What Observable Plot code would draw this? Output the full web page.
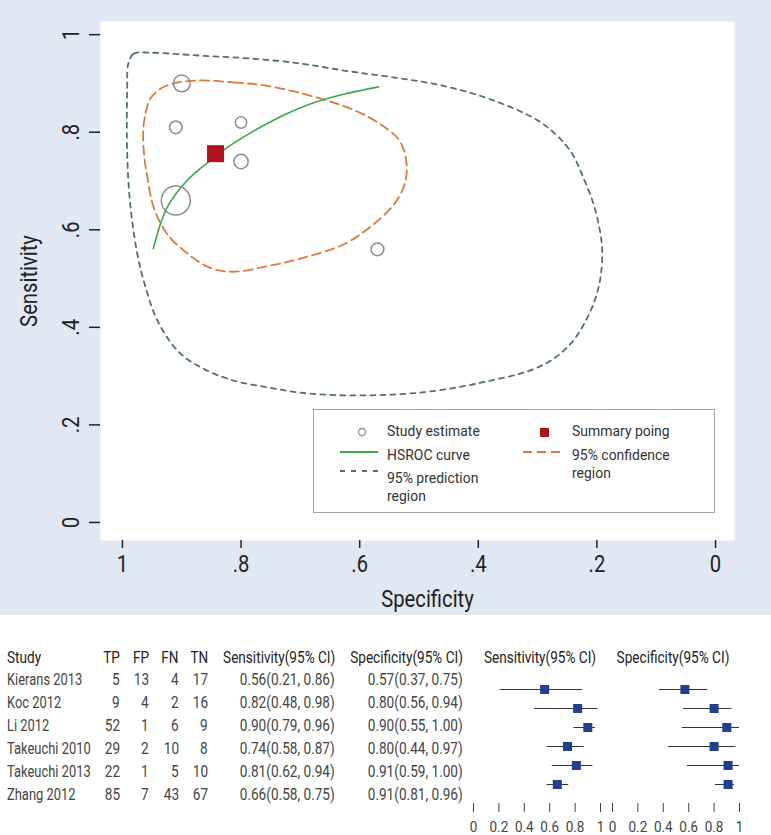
<!DOCTYPE html>
<html>
<head>
<meta charset="utf-8">
<script src="https://cdn.jsdelivr.net/npm/d3@7"></script>
<script src="https://cdn.jsdelivr.net/npm/@observablehq/plot@0.6"></script>
<style>
  body { margin: 0; background: white; }
  #page { position: relative; width: 771px; height: 835px; background: white; overflow: hidden; font-family: Roboto, sans-serif; }
  #topPanel { position: absolute; left: 0; top: 0; width: 771px; height: 615px; background: #e0e8f3; }
  .abs { position: absolute; white-space: nowrap; }
</style>
</head>
<body>
<div id="page">
  <div id="topPanel"></div>
</div>
<script>
const FONT = "Roboto, sans-serif";

// ---- Study data ----
const studies = ["Kierans 2013", "Koc 2012", "Li 2012", "Takeuchi 2010", "Takeuchi 2013", "Zhang 2012"];
const TP = [5, 9, 52, 29, 22, 85];
const FP = [13, 4, 1, 2, 1, 7];
const FN = [4, 2, 6, 10, 5, 43];
const TN = [17, 16, 9, 8, 10, 67];
const sens = [0.56, 0.82, 0.90, 0.74, 0.81, 0.66];
const sensLo = [0.21, 0.48, 0.79, 0.58, 0.62, 0.58];
const sensHi = [0.86, 0.98, 0.96, 0.87, 0.94, 0.75];
const spec = [0.57, 0.80, 0.90, 0.80, 0.91, 0.91];
const specLo = [0.37, 0.56, 0.55, 0.44, 0.59, 0.81];
const specHi = [0.75, 0.94, 1.00, 0.97, 1.00, 0.96];

// ---- Summary point ----
const summarySpec = [0.843];
const summarySens = [0.756];

// ---- HSROC curve ----
const hsrocSpec = [0.948, 0.925, 0.891, 0.852, 0.813, 0.756, 0.700, 0.666, 0.624, 0.568];
const hsrocSens = [0.561, 0.645, 0.701, 0.742, 0.777, 0.818, 0.850, 0.865, 0.879, 0.893];

// ---- 95% confidence region ----
const confSpec = [0.874, 0.812, 0.755, 0.666, 0.607, 0.567, 0.533, 0.521, 0.524, 0.541, 0.575, 0.624, 0.700, 0.757, 0.813, 0.852, 0.890, 0.925, 0.947, 0.957, 0.963, 0.965, 0.960, 0.953, 0.936, 0.914];
const confSens = [0.906, 0.902, 0.895, 0.869, 0.844, 0.818, 0.783, 0.736, 0.695, 0.654, 0.613, 0.572, 0.541, 0.525, 0.514, 0.522, 0.551, 0.592, 0.645, 0.701, 0.748, 0.803, 0.844, 0.869, 0.889, 0.900];

// ---- 95% prediction region ----
const predSpec = [0.990, 0.981, 0.953, 0.868, 0.784, 0.700, 0.624, 0.541, 0.459, 0.374, 0.292, 0.245, 0.223, 0.206, 0.196, 0.191, 0.194, 0.202, 0.216, 0.236, 0.256, 0.283, 0.324, 0.379, 0.435, 0.500, 0.570, 0.640, 0.700, 0.755, 0.813, 0.868, 0.907, 0.941, 0.961, 0.975, 0.987, 0.992, 0.992];
const predSens = [0.941, 0.961, 0.963, 0.957, 0.951, 0.941, 0.926, 0.912, 0.895, 0.865, 0.818, 0.762, 0.707, 0.654, 0.605, 0.557, 0.502, 0.461, 0.420, 0.379, 0.352, 0.328, 0.307, 0.291, 0.277, 0.266, 0.261, 0.261, 0.266, 0.277, 0.291, 0.318, 0.352, 0.414, 0.482, 0.551, 0.654, 0.756, 0.891];

// ---- Tick labels ----
const xTicks = [1, 0.8, 0.6, 0.4, 0.2, 0];
const xTickLabels = ["1", ".8", ".6", ".4", ".2", "0"];
const yTicks = [0, 0.2, 0.4, 0.6, 0.8, 1];
const yTickLabels = ["0", ".2", ".4", ".6", ".8", "1"];
const forestTicks = [0, 0.2, 0.4, 0.6, 0.8, 1];
const forestTickLabels = ["0", "0.2", "0.4", "0.6", "0.8", "1"];

// ---- Table headers ----
const tableHeaders = ["Study", "TP", "FP", "FN", "TN", "Sensitivity(95% CI)", "Specificity(95% CI)"];
const forestHeaders = ["Sensitivity(95% CI)", "Specificity(95% CI)"];

// ---- Colors ----
const cGreen = "#3aa847", cOrange = "#dd7a3b", cPred = "#52706a", cCircle = "#8c8c8c", cRed = "#b1111b", cBlue = "#213f8f";

const studyRows = studies.map((s, i) => ({
  study: s, n: TP[i] + FP[i] + FN[i] + TN[i], sens: sens[i], spec: spec[i],
  sensLo: sensLo[i], sensHi: sensHi[i], specLo: specLo[i], specHi: specHi[i]
}));
const hsroc = hsrocSpec.map((s, i) => ({spec: s, sens: hsrocSens[i]}));
const conf = confSpec.map((s, i) => ({spec: s, sens: confSens[i]}));
const pred = predSpec.map((s, i) => ({spec: s, sens: predSens[i]}));
const summary = summarySpec.map((s, i) => ({spec: s, sens: summarySens[i]}));

// condense svg text glyphs (reference uses a condensed face)
function condense(svg, f) {
  svg.querySelectorAll("text").forEach(t => {
    const L = t.getComputedTextLength();
    if (L > 0) { t.setAttribute("textLength", (L * f).toFixed(2)); t.setAttribute("lengthAdjust", "spacingAndGlyphs"); }
  });
}

// ---------- Top SROC plot ----------
const srocPlot = Plot.plot({
  width: 771, height: 615,
  marginLeft: 100, marginRight: 37, marginTop: 21, marginBottom: 75,
  style: {background: "transparent", fontFamily: FONT, color: "#222", overflow: "visible"},
  x: {domain: [1.037, -0.032]},
  y: {domain: [-0.037, 1.027]},
  r: {type: "sqrt", domain: [0, 202], range: [0, 14.5]},
  marks: [
    Plot.frame({fill: "white", stroke: null}),
    Plot.line(pred, {x: "spec", y: "sens", curve: "catmull-rom-closed", stroke: cPred, strokeWidth: 1.8, strokeDasharray: "5,5"}),
    Plot.line(conf, {x: "spec", y: "sens", curve: "catmull-rom-closed", stroke: cOrange, strokeWidth: 1.8, strokeDasharray: "9,5"}),
    Plot.line(hsroc, {x: "spec", y: "sens", curve: "catmull-rom", stroke: cGreen, strokeWidth: 1.6}),
    Plot.dot(studyRows, {x: "spec", y: "sens", r: "n", stroke: cCircle, strokeWidth: 1.5, fill: "none"}),
    Plot.dot(summary, {x: "spec", y: "sens", symbol: "square", r: 9.6, fill: cRed, stroke: null}),
    Plot.axisY({ticks: yTicks, tickFormat: d => yTickLabels[yTicks.indexOf(d)], tickSize: 11, tickPadding: 11,
      tickRotate: -90, fontSize: 23, line: true, label: "Sensitivity", labelArrow: "none", labelAnchor: "center", labelOffset: 80, strokeWidth: 1.5}),
    Plot.axisX({ticks: xTicks, tickFormat: d => xTickLabels[xTicks.indexOf(d)], tickSize: 8, tickPadding: 7,
      fontSize: 23, line: true, label: "Specificity", labelArrow: "none", labelAnchor: "center", labelOffset: 66, strokeWidth: 1.5})
  ]
});
document.getElementById("topPanel").appendChild(srocPlot);
// shift x-axis title slightly right as in reference
srocPlot.querySelectorAll("text").forEach(t => { if (t.textContent === "Specificity") t.setAttribute("dx", "10"); });
condense(srocPlot, 0.88);

const page = document.getElementById("page");
function addText(txt, left, cy, opts = {}) {
  const d = document.createElement("div");
  d.className = "abs";
  const lines = txt.split("\n");
  lines.forEach((ln, k) => { if (k) d.appendChild(document.createElement("br")); d.appendChild(document.createTextNode(ln)); });
  const fs = opts.size || 17;
  const lh = opts.lineHeight || fs;
  const f = opts.squeeze || 0.8;
  d.style.fontSize = fs + "px";
  d.style.lineHeight = lh + "px";
  d.style.top = (cy - lh / 2) + "px";
  d.style.color = opts.color || "#444";
  d.style.transform = `scaleX(${f})`;
  if (opts.right != null) { d.style.right = (771 - opts.right) + "px"; d.style.textAlign = "right"; d.style.transformOrigin = "right top"; }
  else if (opts.center != null) { d.style.left = (opts.center - 90) + "px"; d.style.width = "180px"; d.style.textAlign = "center"; d.style.transformOrigin = "center top"; }
  else { d.style.left = left + "px"; d.style.transformOrigin = "left top"; }
  page.appendChild(d);
  return d;
}

// ---------- Legend ----------
const leg = document.createElement("div");
leg.className = "abs";
Object.assign(leg.style, {left: "313px", top: "409px", width: "400px", height: "102px", background: "white", border: "1px solid #a5a5a5"});
leg.innerHTML = `<svg width="400" height="102" style="position:absolute;left:0;top:0">
  <circle cx="48" cy="22" r="3.5" fill="none" stroke="${cCircle}" stroke-width="1.3"/>
  <rect x="226" y="18" width="9" height="9" fill="${cRed}"/>
  <line x1="26" x2="64" y1="42" y2="42" stroke="${cGreen}" stroke-width="1.8"/>
  <line x1="209" x2="246" y1="42" y2="42" stroke="${cOrange}" stroke-width="1.8" stroke-dasharray="9,5"/>
  <line x1="26" x2="64" y1="61" y2="61" stroke="${cPred}" stroke-width="1.8" stroke-dasharray="5,6"/>
</svg>`;
page.appendChild(leg);
const legOpts = {size: 15, lineHeight: 18, color: "#333", squeeze: 0.93};
addText("Study estimate", 387, 431, legOpts);
addText("Summary poing", 572, 431, legOpts);
addText("HSROC curve", 387, 455, legOpts);
addText("95% confidence\nregion", 572, 455, legOpts);
addText("95% prediction\nregion", 387, 478, legOpts);

// ---------- Table ----------
const rowY0 = 679, rowStep = 23, headY = 657;
const colRight = [null, 120, 149, 179, 208, 335, 463];
tableHeaders.forEach((h, j) => {
  if (j === 0) addText(h, 7, headY, {color: "#222"});
  else addText(h, 0, headY, {right: colRight[j], color: "#222"});
});
const fmt = v => v.toFixed(2);
studyRows.forEach((r, i) => {
  const cy = rowY0 + i * rowStep;
  addText(r.study, 7, cy, {squeeze: 0.76});
  [TP[i], FP[i], FN[i], TN[i]].forEach((v, j) => addText(String(v), 0, cy, {right: colRight[j + 1]}));
  addText(`${fmt(r.sens)}(${fmt(r.sensLo)}, ${fmt(r.sensHi)})`, 0, cy, {right: colRight[5]});
  addText(`${fmt(r.spec)}(${fmt(r.specLo)}, ${fmt(r.specHi)})`, 0, cy, {right: colRight[6]});
});
addText(forestHeaders[0], 0, headY, {center: 540, color: "#222"});
addText(forestHeaders[1], 0, headY, {center: 673, color: "#222"});

// ---------- Forest plots ----------
function forest(est, lo, hi, left, mL, mR) {
  const svg = Plot.plot({
    width: 150, height: 170, marginLeft: mL, marginRight: mR, marginTop: 0, marginBottom: 28,
    style: {background: "transparent", fontFamily: FONT, color: "#444", overflow: "visible"},
    x: {domain: [0, 1]},
    y: {type: "point", domain: studies, range: [14, 129], axis: null},
    marks: [
      Plot.ruleY(studyRows, {y: "study", x1: lo, x2: hi, stroke: "#333", strokeWidth: 1}),
      Plot.dot(studyRows, {x: est, y: "study", symbol: "square", r: 5.1, fill: cBlue, stroke: null}),
      Plot.axisX({ticks: forestTicks, tickSize: 9, dy: -4, tickFormat: () => "", label: null}),
      Plot.axisX({ticks: forestTicks, tickSize: 0, tickPadding: 14, line: true, fontSize: 15,
        tickFormat: d => forestTickLabels[forestTicks.indexOf(d)], label: null})
    ]
  });
  const wrap = document.createElement("div");
  wrap.className = "abs";
  wrap.style.left = left + "px";
  wrap.style.top = "665px";
  wrap.appendChild(svg);
  page.appendChild(wrap);
  condense(svg, 0.9);
}
forest("sens", "sensLo", "sensHi", 460, 13, 10);
forest("spec", "specLo", "specHi", 605, 7, 16);
</script>
</body>
</html>
